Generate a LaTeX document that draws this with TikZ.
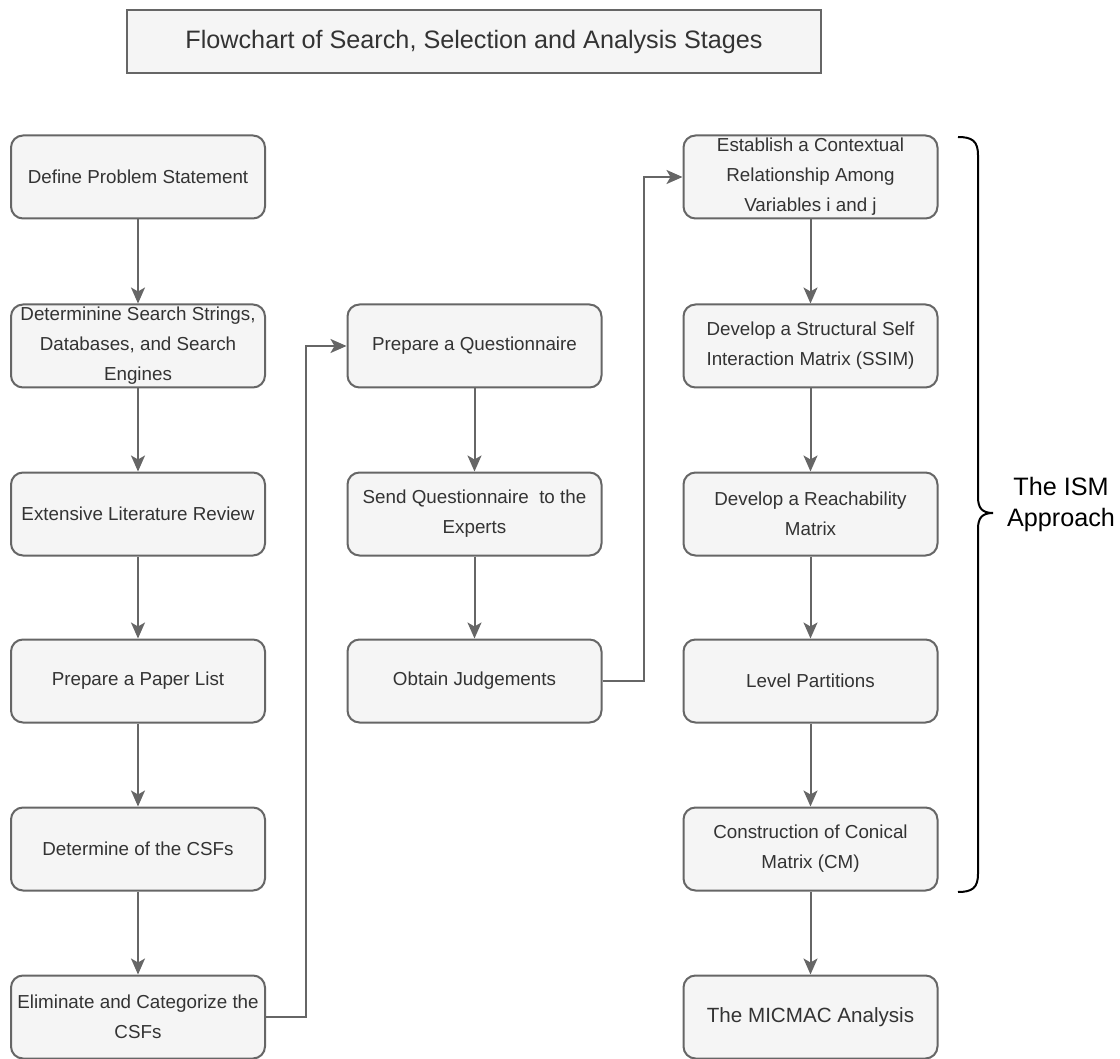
\documentclass[tikz,border=0pt]{standalone}
\usepackage{fontspec}
\setmainfont{Liberation Sans}
\usetikzlibrary{arrows.meta}

\definecolor{boxfill}{HTML}{F5F5F5}
\definecolor{boxline}{HTML}{666666}
\definecolor{boxtext}{HTML}{333333}

\tikzset{
  stepbox/.style={draw=boxline, fill=boxfill, line width=1pt, rounded corners=6pt,
    minimum width=127pt, minimum height=41.5pt, inner sep=0pt, align=center,
    text=boxtext, font=\fontsize{9.4}{15}\selectfont},
  titlebox/.style={draw=boxline, fill=boxfill, line width=1pt,
    minimum width=347pt, minimum height=31.5pt, inner sep=0pt,
    text=boxtext, font=\fontsize{12.6}{15}\selectfont},
  flow/.style={->, draw=boxline, line width=1pt},
}

\begin{document}
\begin{tikzpicture}[x=0.5pt, y=-0.5pt, >={Stealth[length=8pt,width=7pt,inset=2pt]}]
        \useasboundingbox (0,0) rectangle (1120,1059);
        % title
        \node [titlebox] (title) at (474,41.5) {Flowchart of Search, Selection and Analysis Stages};
        % search and selection
        \node [stepbox] (define) at (138,177) {Define Problem Statement};
        \node [stepbox] (strings) at (138,346) {Determinine Search Strings,\\ Databases, and Search\\ Engines};
        \node [stepbox] (review) at (138,514) {Extensive Literature Review};
        \node [stepbox] (papers) at (138,681) {Prepare a Paper List};
        \node [stepbox] (csfs) at (138,849) {Determine of the CSFs};
        \node [stepbox] (elim) at (138,1017) {Eliminate and Categorize the\\ CSFs};
        % questionnaire
        \node [stepbox] (quest) at (474.5,346) {Prepare a Questionnaire};
        \node [stepbox] (send) at (474.5,514) {Send Questionnaire\ \ to the\\ Experts};
        \node [stepbox] (judge) at (474.5,681) {Obtain Judgements};
        % ISM steps
        \node [stepbox] (estab) at (810.5,177) {Establish a Contextual\\ Relationship Among\\ Variables i and j};
        \node [stepbox] (ssim) at (810.5,346) {Develop a Structural Self\\ Interaction Matrix (SSIM)};
        \node [stepbox] (reach) at (810.5,514) {Develop a Reachability\\ Matrix};
        \node [stepbox] (level) at (810.5,681) {Level Partitions};
        \node [stepbox] (conical) at (810.5,849) {Construction of Conical\\ Matrix (CM)};
        \node [stepbox, font=\fontsize{10.3}{15}\selectfont] (micmac) at (810.5,1017) {The MICMAC Analysis};

        \draw [flow] (define) -- (strings);
        \draw [flow] (strings) -- (review);
        \draw [flow] (review) -- (papers);
        \draw [flow] (papers) -- (csfs);
        \draw [flow] (csfs) -- (elim);
        \draw [flow] (elim.east) -- ++(40,0) |- (quest.west);
        \draw [flow] (quest) -- (send);
        \draw [flow] (send) -- (judge);
        \draw [flow] (judge.east) -- ++(41,0) |- (estab.west);
        \draw [flow] (estab) -- (ssim);
        \draw [flow] (ssim) -- (reach);
        \draw [flow] (reach) -- (level);
        \draw [flow] (level) -- (conical);
        \draw [flow] (conical) -- (micmac);

        % brace round the ISM steps
        \coordinate (tip) at (993,513);
        \draw [line width=1pt] (958,137) .. controls (972,137) and (978,141) .. (978,155)
            -- (978,497) .. controls (978,508) and (982,513) .. (tip)
            .. controls (982,513) and (978,518) .. (978,529)
            -- (978,874) .. controls (978,888) and (972,892) .. (958,892);
        \node [align=center, font=\fontsize{12.6}{15.5}\selectfont] (ism) at (1061,504) {The ISM\\ Approach};
    \end{tikzpicture}
\end{document}
